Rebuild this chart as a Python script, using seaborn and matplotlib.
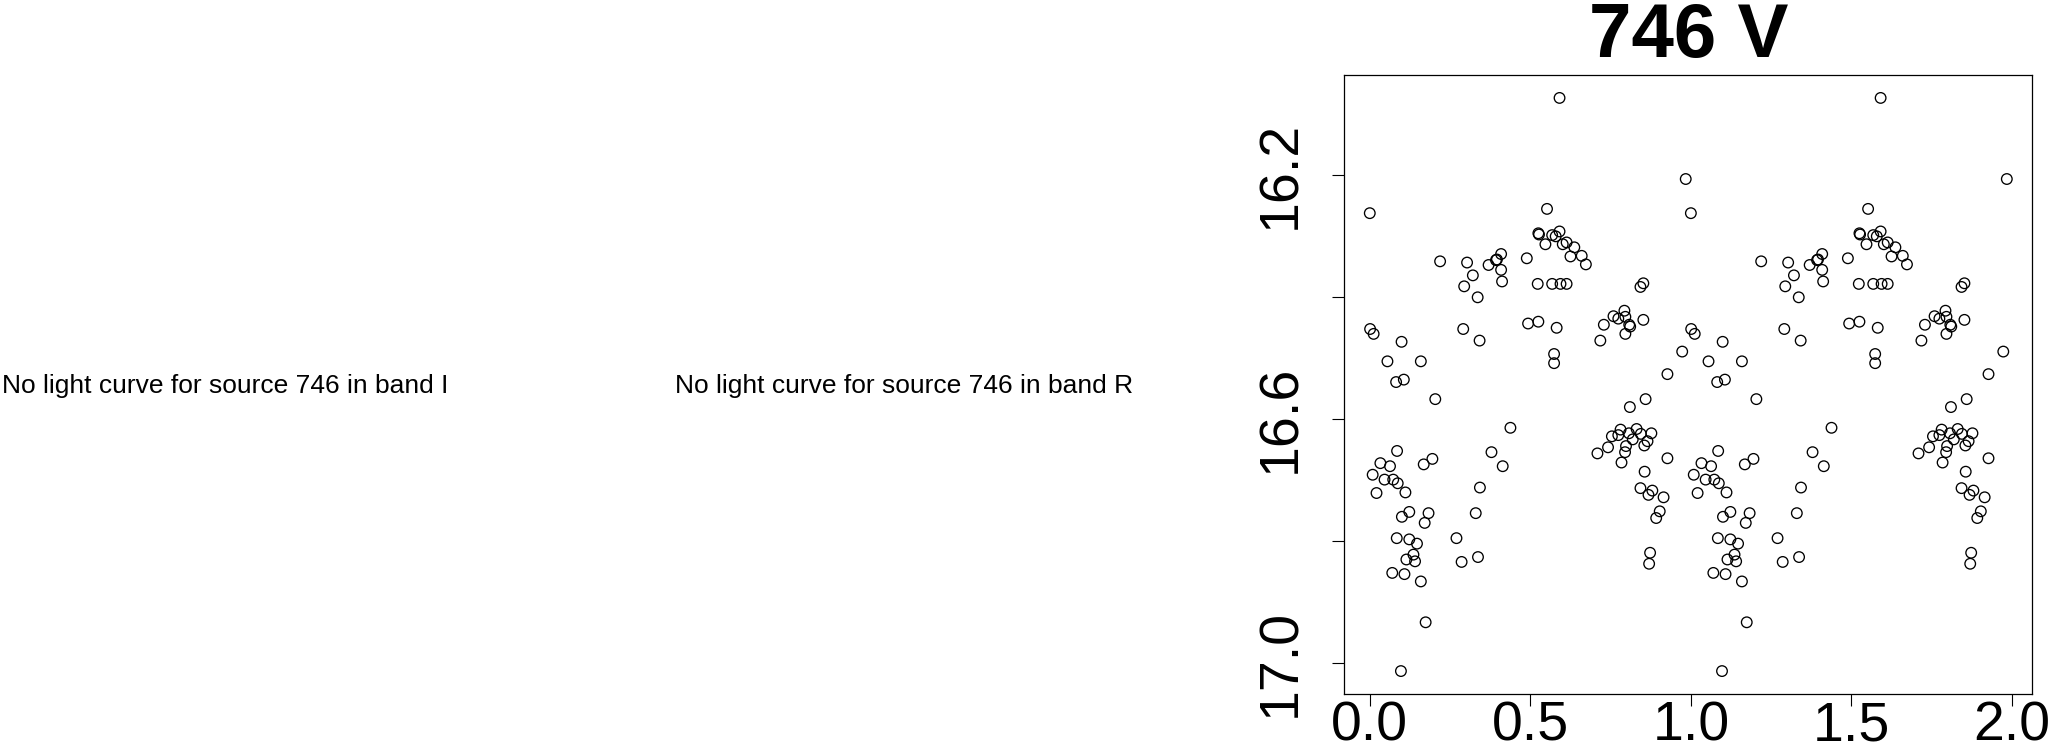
"""
Curva de luz plegada en fase para la fuente 746 (banda V).
Las bandas I y R no tienen datos, solo se muestra un aviso.
"""

import numpy as np
import pandas as pd
import matplotlib
matplotlib.use("Agg")
import matplotlib.pyplot as plt
import seaborn as sns

# fase (0-1) y magnitud V
phase = [
    0.000, 0.001, 0.012, 0.055, 0.099, 0.082, 0.106, 0.159, 0.204, 0.219,
    0.303, 0.294, 0.321, 0.336, 0.291, 0.342, 0.370, 0.393, 0.396, 0.409,
    0.409, 0.412, 0.489, 0.493, 0.525, 0.525, 0.527, 0.523, 0.552, 0.547,
    0.568, 0.579, 0.591, 0.601, 0.613, 0.637, 0.625, 0.660, 0.673, 0.568,
    0.594, 0.613, 0.582, 0.574, 0.574, 0.591, 0.718, 0.729, 0.759, 0.774,
    0.793, 0.796, 0.808, 0.811, 0.796, 0.852, 0.843, 0.852, 0.984, 0.973,
    0.927,
    0.085, 0.033, 0.063, 0.009, 0.046, 0.073, 0.087, 0.021, 0.111, 0.123,
    0.100, 0.183, 0.171, 0.195, 0.168, 0.379, 0.414, 0.343, 0.330, 0.270,
    0.286, 0.337, 0.084, 0.123, 0.147, 0.136, 0.114, 0.141, 0.070, 0.108,
    0.159, 0.174, 0.097, 0.438, 0.709, 0.742, 0.754, 0.774, 0.781, 0.807,
    0.831, 0.844, 0.877, 0.819, 0.865, 0.855, 0.798, 0.795, 0.784, 0.810,
    0.859, 0.927, 0.856, 0.843, 0.880, 0.868, 0.915, 0.903, 0.892, 0.873,
    0.870,
]
mag = [
    16.262, 16.452, 16.460, 16.505, 16.473, 16.539, 16.535, 16.505, 16.567, 16.341,
    16.343, 16.382, 16.364, 16.400, 16.452, 16.471, 16.347, 16.339, 16.338, 16.329,
    16.355, 16.374, 16.336, 16.443, 16.440, 16.295, 16.297, 16.378, 16.255, 16.313,
    16.298, 16.300, 16.292, 16.313, 16.310, 16.318, 16.333, 16.332, 16.346, 16.378,
    16.378, 16.378, 16.450, 16.493, 16.508, 16.073, 16.471, 16.445, 16.431, 16.435,
    16.422, 16.432, 16.445, 16.448, 16.460, 16.437, 16.383, 16.377, 16.206, 16.489,
    16.526,
    16.652, 16.672, 16.677, 16.691, 16.699, 16.699, 16.705, 16.721, 16.720, 16.752,
    16.760, 16.754, 16.770, 16.665, 16.674, 16.654, 16.677, 16.712, 16.754, 16.795,
    16.834, 16.826, 16.795, 16.797, 16.804, 16.822, 16.830, 16.833, 16.852, 16.854,
    16.866, 16.933, 17.013, 16.614, 16.656, 16.646, 16.628, 16.626, 16.617, 16.623,
    16.616, 16.624, 16.623, 16.633, 16.636, 16.643, 16.644, 16.654, 16.671, 16.580,
    16.567, 16.664, 16.686, 16.713, 16.717, 16.724, 16.728, 16.751, 16.762, 16.819,
    16.837,
]

x_ticks = [0.0, 0.5, 1.0, 1.5, 2.0]
x_labels = ["0.0", "0.5", "1.0", "1.5", "2.0"]
y_ticks = [16.2, 16.4, 16.6, 16.8, 17.0]
y_labels = ["16.2", "", "16.6", "", "17.0"]

source_id = 746
missing_bands = ["I", "R"]

# dos ciclos de fase, como en la figura original
df = pd.DataFrame({"phase": phase, "mag": mag})
df2 = pd.concat([df, df.assign(phase=df["phase"] + 1.0)], ignore_index=True)

sns.set_style("white")
plt.rcParams["font.family"] = ["Liberation Sans", "DejaVu Sans"]
plt.rcParams["text.color"] = "black"
plt.rcParams["axes.labelcolor"] = "black"
plt.rcParams["xtick.color"] = "black"
plt.rcParams["ytick.color"] = "black"

fig = plt.figure(figsize=(20.51, 7.51), dpi=100)

# avisos de bandas sin datos
text_x = [1.7 / 2051, 675 / 2051]
for band, tx in zip(missing_bands, text_x):
    fig.text(tx, 1 - 393 / 751, f"No light curve for source {source_id} in band {band}",
             fontsize=19, ha="left", va="baseline", color="black")

ax = fig.add_axes([1344.3 / 2051, 1 - 694 / 751, 688 / 2051, 619 / 751])
sns.scatterplot(data=df2, x="phase", y="mag", ax=ax, marker="o",
                facecolors="none", edgecolor="black", linewidth=0.95, s=58)

ax.margins(x=0.04, y=0.04)
ax.invert_yaxis()
ax.set_xticks(x_ticks)
ax.set_xticklabels(x_labels)
ax.set_yticks(y_ticks)
ax.set_yticklabels(y_labels, rotation=90, va="center")
ax.set_xlabel("")
ax.set_ylabel("")
ax.tick_params(axis="both", direction="out", length=8.6, width=0.8,
               color="black", labelcolor="black", labelsize=40, left=True, bottom=True)
ax.tick_params(axis="x", pad=-4)
ax.tick_params(axis="y", pad=18)
for sp in ax.spines.values():
    sp.set_color("black")
    sp.set_linewidth(0.9)

ax.set_title(f"{source_id} V", fontsize=55, fontweight="bold", pad=13, color="black")

fig.savefig("out.png", dpi=100)
